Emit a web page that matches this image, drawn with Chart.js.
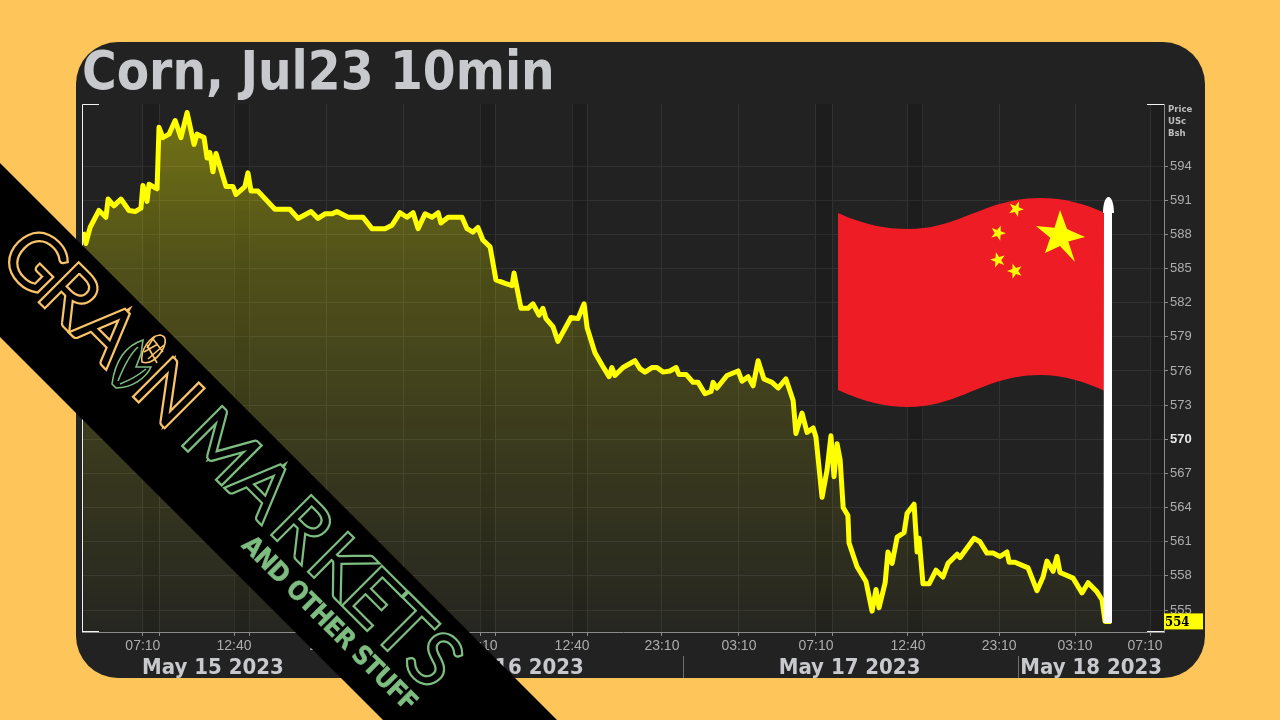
<!DOCTYPE html>
<html>
<head>
<meta charset="utf-8">
<title>Corn, Jul23 10min</title>
<script src="https://cdn.jsdelivr.net/npm/chart.js@4/dist/chart.umd.min.js"></script>
<style>
html, body { margin: 0; padding: 0; width: 1280px; height: 720px; overflow: hidden; background: #fec55a; }
#panel { position: absolute; left: 76px; top: 42px; width: 1129px; height: 636px; border-radius: 42px; background: #222222; }
#wrap { position: absolute; left: 0; top: 0; width: 1280px; height: 720px; }
#overlay { position: absolute; left: 0; top: 0; pointer-events: none; }
</style>
</head>
<body>
<div id="panel"></div>
<div id="wrap"><canvas id="cornChart" width="1280" height="720"></canvas></div>

<svg id="overlay" width="1280" height="720" viewBox="0 0 1280 720">
  <!-- flag -->
  <path fill="#ee1c25" d="M838,213 C865,225 885,229 908,229 C960,229 985,198 1040,198 C1065,198 1085,204 1105,213 V391 C1085,382 1065,375 1040,375 C985,375 960,407 908,407 C885,407 865,402 838,390 Z"/>
  <g fill="#ffff00">
    <polygon points="0,-26 7,-7 25,1 8.3,5.6 15,26 0,10 -15,17 -9.8,1.8 -24,-10 -5.5,-8.3" transform="translate(1060,236)"/>
    <polygon points="0,-8 1.9,-2.6 7.6,-2.5 3.1,1 4.7,6.5 0,3.2 -4.7,6.5 -3.1,1 -7.6,-2.5 -1.9,-2.6" transform="translate(1016,209) rotate(22)"/>
    <polygon points="0,-8 1.9,-2.6 7.6,-2.5 3.1,1 4.7,6.5 0,3.2 -4.7,6.5 -3.1,1 -7.6,-2.5 -1.9,-2.6" transform="translate(998,233) rotate(20)"/>
    <polygon points="0,-8 1.9,-2.6 7.6,-2.5 3.1,1 4.7,6.5 0,3.2 -4.7,6.5 -3.1,1 -7.6,-2.5 -1.9,-2.6" transform="translate(998,260) rotate(-15)"/>
    <polygon points="0,-8 1.9,-2.6 7.6,-2.5 3.1,1 4.7,6.5 0,3.2 -4.7,6.5 -3.1,1 -7.6,-2.5 -1.9,-2.6" transform="translate(1015,271) rotate(-18)"/>
  </g>
  <!-- pole -->
  <path fill="#ffffff" d="M1104,213 H1103 C1103,205 1105,197 1108.5,197 C1112,197 1114,205 1114,213 H1112 V623 H1103.5 Z"/>

  <!-- banner -->
  <polygon fill="#000000" points="0,163 557,720 383,720 0,337"/>
  <g transform="rotate(45)" style="font-family:'Lato';font-weight:300;font-size:73px;" text-anchor="middle">
    <g stroke-linejoin="miter" fill="#fbc468" stroke="#fbc468" stroke-width="7"><use href="#grainWord"/></g>
    <g fill="#000000" stroke="#000000" stroke-width="2.6"><text id="grainWord" y="184" x="209 258 310 397">GRAN</text></g>
    <g stroke-linejoin="miter" fill="#7dbd80" stroke="#7dbd80" stroke-width="7"><use href="#marketsWord"/></g>
    <g fill="#000000" stroke="#000000" stroke-width="2.6"><text id="marketsWord" y="184" x="472 530 587 640 686 730 773">MARKETS</text></g>
    <text x="556" y="216" text-anchor="start" textLength="236" fill="#7dbd80" stroke="#7dbd80" stroke-width="0.4" style="font-family:'DejaVu Sans Condensed';font-weight:700;font-size:26px;">AND OTHER STUFF</text>
  </g>
  <!-- corn -->
  <g fill="none" stroke-width="1.6">
    <path stroke="#fbc468" d="M142,362 C140,350 150,336 160,335 C167,336 166,343 163,349 C158,358 150,365 142,362 Z"/>
    <path stroke="#fbc468" d="M147,345 L157,363 M153,339 L163,352 M144,352 L158,344 M148,359 L164,345 M155,336 L147,348"/>
    <path stroke="#7dbd80" d="M112,384 L116,388 C132,388 146,378 151,367 L136,367 L141,354 L143,340 C125,346 115,362 112,384 Z"/>
    <path stroke="#7dbd80" d="M118,381 C124,366 130,354 138,347 M120,384 C130,380 140,374 146,369"/>
  </g>
</svg>

<script>
// chart values
var priceBars = [0.4,1.4,2.9,6.1,8.6,9.4,11.5,14.0,16.9,19.1,21.2,21.9,23.4,24.1,27.0,27.7,29.1,31.3,33.5,35.6,37.8,40.3,41.4,43.9,45.0,46.0,47.1,48.2,51.8,54.3,55.4,58.6,59.7,60.8,63.3,69.4,74.8,77.7,82.4,84.9,87.4,89.9,91.7,95.7,101.1,104.3,109.0,111.5,114.4,116.9,119.1,120.9,123.4,125.9,128.1,129.1,131.7,136.7,138.5,140.6,142.4,144.2,146.8,148.9,152.2,154.7,155.4,157.9,160.4,162.2,164.4,165.8,166.9,169.4,171.2,175.9,178.4,180.6,181.7,184.5,187.1,189.6,190.6,191.7,194.6,198.9,200.7,202.5,205.0,206.8,209.0,211.5,213.7,214.7,217.3,219.8,221.6,224.1,226.3,227.0,228.4,232.0,236.0,237.4,239.6,241.4,243.2,245.3,248.2,250.4,253.2,255.8,256.8,259.0,260.8,263.0,264.0,266.2,268.0,269.4,270.5,271.6,272.7,273.8,275.5,275.9,278.8,282.0,284.2,285.6,286.7,288.9,289.9,291.4,293.2,295.7,296.8,299.3,300.4,301.1,302.5,304.7,307.2,309.7,311.5,314.8,315.8,320.9,323.0,325.5,327.7,330.2,332.7,333.5,335.6,340.3,343.5,345.7,347.1,349.3,350.7,351.8,356.5,359.7,361.9,365.1,366.9,368.0,370.2];
var priceValues = [588.2,587.2,588.6,590.1,589.5,591.1,590.5,591.1,590.1,590.0,590.3,592.3,590.9,592.4,592.0,597.4,596.5,596.8,598.0,596.5,598.7,595.9,596.8,596.5,594.7,595.2,593.5,595.1,592.2,592.2,591.5,592.2,593.4,591.8,591.8,590.2,590.2,589.4,590.0,589.4,589.8,589.8,590.0,589.5,589.5,588.5,588.5,588.8,589.9,589.5,589.9,588.5,589.8,589.5,589.9,589.0,589.5,589.5,588.5,588.2,588.6,587.5,586.9,584.0,583.7,583.5,584.6,581.5,581.5,581.9,580.9,581.5,580.6,579.9,578.6,580.7,580.6,581.9,579.8,577.6,576.5,575.5,576.3,575.6,576.3,576.9,576.2,575.9,576.3,576.3,575.9,576.0,576.3,575.7,575.7,575.0,575.0,574.0,574.2,575.0,574.5,575.6,576.0,575.1,575.5,574.7,576.9,575.3,575.0,574.5,575.3,573.4,570.5,572.3,570.6,571.0,570.2,564.9,567.3,570.3,566.7,569.6,568.2,564.0,563.3,560.9,558.8,557.5,554.9,556.8,555.2,557.4,560.1,559.1,561.4,561.8,563.5,564.3,560.1,561.3,557.3,557.3,558.5,557.9,559.1,559.9,559.6,561.3,561.0,560.0,560.0,559.7,560.1,559.2,559.2,558.7,556.7,557.9,559.3,558.4,559.7,558.3,557.8,556.5,557.4,556.6,555.9,554.0,554.0];
var priceTicks = [555,558,561,564,567,570,573,576,579,582,585,588,591,594];
var timeTicks = [21.9,27.7,54.7,60.4,88.1,115.5,143.2,148.6,176.3,181.7,208.6,236.3,264.0,269.8,297.1,302.5,329.9,357.2,382.4,384.5];
var timeLabels = ["07:10","","12:40","","23:10","03:10","07:10","","12:40","","23:10","03:10","07:10","","12:40","","23:10","03:10","07:10",""];
var labelOnlyTick = 382.4; // last label sits left of its grid line
var dateTicks = [47.1,155.0,276.1,363.0];
var dateLabels = ["May 15 2023","May 16 2023","May 17 2023","May 18 2023"];
var dateSeparators = [95.3,216.2,336.7];
var closedBands = [[21.9,27.7],[54.7,60.4],[143.2,148.6],[176.3,181.7],[264.0,269.8],[297.1,302.5],[384.5,389.2]];
var unitLabels = ["Price","USc","Bsh"];
var lastPrice = 554;

var points = priceBars.map(function (b, i) { return { x: b, y: priceValues[i] }; });

function areaGradient(context) {
	var area = context.chart.chartArea;
	if (!area) return "rgba(255,255,0,0.2)";
	var g = context.chart.ctx.createLinearGradient(0, area.top, 0, area.bottom);
	g.addColorStop(0, "rgba(255,255,0,0.38)");
	g.addColorStop(0.31, "rgba(255,255,0,0.21)");
	g.addColorStop(0.65, "rgba(255,255,0,0.11)");
	g.addColorStop(1, "rgba(255,255,0,0.02)");
	return g;
}

function timeGridColor(normal) {
	return function (c) { return c.tick && c.tick.value === labelOnlyTick ? "transparent" : normal; };
}

var bandsPlugin = {
	id: "bands",
	beforeDatasetsDraw: function (chart) {
		var ctx = chart.ctx, a = chart.chartArea, x = chart.scales.x;
		ctx.save();
		ctx.fillStyle = "rgba(0,0,0,0.12)";
		closedBands.forEach(function (b) {
			ctx.fillRect(x.getPixelForValue(b[0]), a.top, x.getPixelForValue(b[1]) - x.getPixelForValue(b[0]), a.height);
		});
		ctx.restore();
	}
};

var framePlugin = {
	id: "frame",
	afterDraw: function (chart) {
		var ctx = chart.ctx, a = chart.chartArea, x = chart.scales.x, y = chart.scales.y;
		ctx.save();
		// white corner pieces of the frame
		ctx.strokeStyle = "#f2f2f2";
		ctx.lineWidth = 1;
		ctx.beginPath();
		ctx.moveTo(a.left + 0.5, a.bottom);
		ctx.lineTo(a.left + 0.5, a.top + 0.5);
		ctx.lineTo(a.left + 17, a.top + 0.5);
		ctx.moveTo(a.left + 0.5, a.bottom - 0.5);
		ctx.lineTo(a.left + 17, a.bottom - 0.5);
		ctx.moveTo(a.right - 17, a.top + 0.5);
		ctx.lineTo(a.right, a.top + 0.5);
		ctx.moveTo(a.right - 17, a.bottom - 0.5);
		ctx.lineTo(a.right, a.bottom - 0.5);
		ctx.stroke();

		// date separators
		ctx.strokeStyle = "#6e6e6e";
		ctx.beginPath();
		dateSeparators.forEach(function (d) {
			var px = Math.round(x.getPixelForValue(d)) + 0.5;
			ctx.moveTo(px, a.bottom + 24);
			ctx.lineTo(px, a.bottom + 46);
		});
		ctx.stroke();

		// unit labels
		ctx.fillStyle = "#bdbdbd";
		ctx.font = 'bold 9.5px "DejaVu Sans Condensed"';
		ctx.textAlign = "left";
		ctx.textBaseline = "middle";
		unitLabels.forEach(function (t, i) {
			ctx.fillText(t, a.right + 4, a.top + 6 + i * 11.7);
		});

		// last price box
		var py = y.getPixelForValue(lastPrice);
		ctx.fillStyle = "#ffff00";
		ctx.fillRect(a.right, py - 8, 39, 16);
		ctx.fillStyle = "#000000";
		ctx.font = 'bold 13px "DejaVu Serif Condensed", "DejaVu Serif"';
		ctx.fillText(String(lastPrice), a.right + 1, py + 1);
		ctx.restore();
	}
};

new Chart("cornChart", {
	type: "line",
	data: {
		datasets: [{
			data: points,
			borderColor: "#ffff00",
			borderWidth: 5,
			borderJoinStyle: "round",
			pointRadius: 0,
			tension: 0,
			fill: "start",
			backgroundColor: areaGradient
		}]
	},
	plugins: [bandsPlugin, framePlugin],
	options: {
		responsive: false,
		animation: false,
		layout: { padding: { left: 82, right: 0, top: 0, bottom: 37 } },
		plugins: {
			legend: { display: false },
			tooltip: { enabled: false },
			title: {
				display: true,
				text: "Corn, Jul23 10min",
				align: "start",
				color: "#c8c9cd",
				font: { family: '"DejaVu Sans Condensed"', weight: "bold", size: 52.5, lineHeight: 1 },
				padding: { top: 49.5, bottom: 2 }
			}
		},
		scales: {
			x: {
				type: "linear",
				weight: 1,
				min: 0,
				max: 389.2,
				afterBuildTicks: function (s) { s.ticks = timeTicks.map(function (v) { return { value: v }; }); },
				afterFit: function (s) { s.height = 23; },
				grid: { color: timeGridColor("#323232"), lineWidth: 1, tickColor: timeGridColor("#8a8a8a"), tickLength: 4 },
				border: { color: "#8a8a8a" },
				ticks: {
					autoSkip: false,
					maxRotation: 0,
					color: "#adadad",
					padding: 2,
					font: { family: '"Liberation Sans"', size: 14 },
					callback: function (v) { return timeLabels[timeTicks.indexOf(v)]; }
				}
			},
			xDate: {
				type: "linear",
				position: "bottom",
				weight: 2,
				min: 0,
				max: 389.2,
				afterBuildTicks: function (s) { s.ticks = dateTicks.map(function (v) { return { value: v }; }); },
				afterFit: function (s) { s.height = 28; },
				grid: { display: false, drawTicks: false },
				border: { display: false },
				ticks: {
					autoSkip: false,
					maxRotation: 0,
					color: "#c8c9cd",
					padding: 0,
					font: { family: '"DejaVu Sans Condensed"', weight: "bold", size: 22 },
					callback: function (v) { return dateLabels[dateTicks.indexOf(v)]; }
				}
			},
			y: {
				type: "linear",
				position: "right",
				min: 553.07,
				max: 599.45,
				afterBuildTicks: function (s) { s.ticks = priceTicks.map(function (v) { return { value: v }; }); },
				afterFit: function (s) { s.width = 116; },
				grid: { color: "#323232", lineWidth: 1, tickColor: "#8a8a8a", tickLength: 4 },
				border: { color: "#8a8a8a" },
				ticks: {
					autoSkip: false,
					padding: 2,
					color: function (c) { return c.tick && c.tick.value === 570 ? "#e6e6e6" : "#adadad"; },
					font: function (c) {
						return { family: '"Liberation Sans"', size: 13, weight: c.tick && c.tick.value === 570 ? "bold" : "normal" };
					}
				}
			}
		}
	}
});
</script>
</body>
</html>
